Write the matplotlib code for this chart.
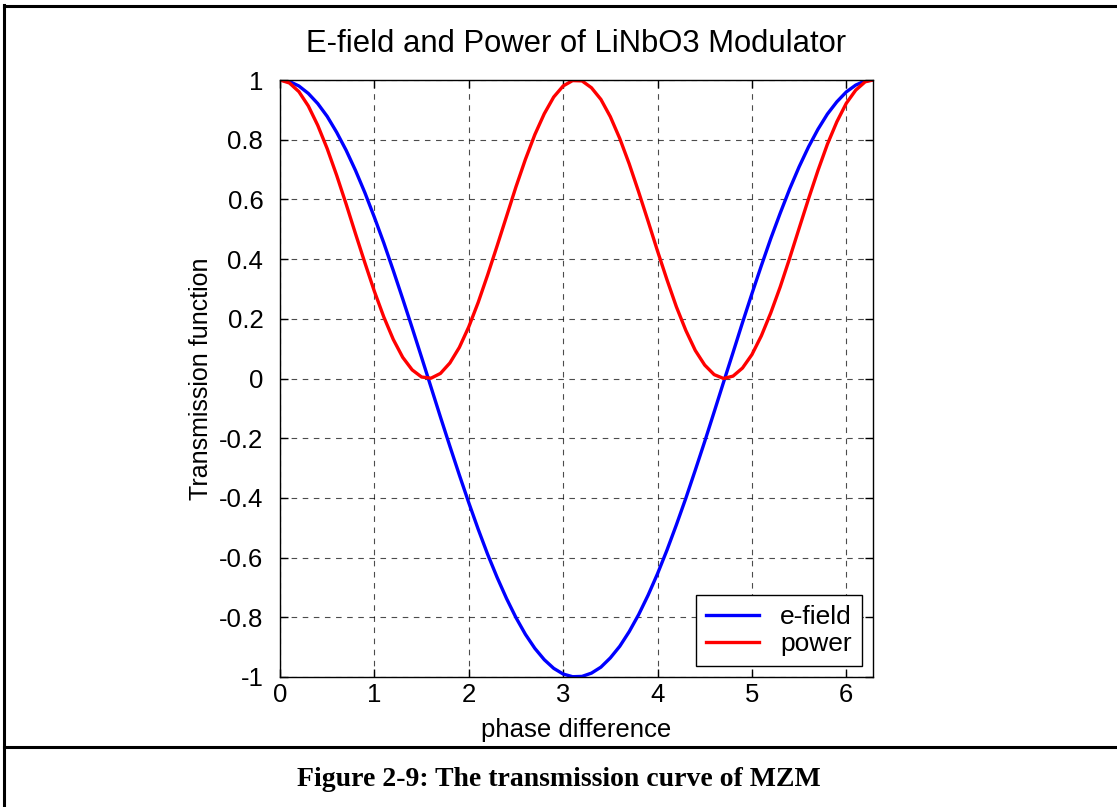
import numpy as np
import matplotlib.pyplot as plt
from matplotlib.lines import Line2D

# phase difference samples (rad) and curves
phase = [0.0, 0.1, 0.2, 0.3, 0.4, 0.5, 0.6, 0.7, 0.8, 0.9,
         1.0, 1.1, 1.2, 1.3, 1.4, 1.5, 1.6, 1.7, 1.8, 1.9,
         2.0, 2.1, 2.2, 2.3, 2.4, 2.5, 2.6, 2.7, 2.8, 2.9,
         3.0, 3.1, 3.2, 3.3, 3.4, 3.5, 3.6, 3.7, 3.8, 3.9,
         4.0, 4.1, 4.2, 4.3, 4.4, 4.5, 4.6, 4.7, 4.8, 4.9,
         5.0, 5.1, 5.2, 5.3, 5.4, 5.5, 5.6, 5.7, 5.8, 5.9,
         6.0, 6.1, 6.2, 6.283]

efield = [1.000, 0.995, 0.980, 0.955, 0.921, 0.878, 0.825, 0.765, 0.697, 0.622,
          0.540, 0.454, 0.362, 0.267, 0.170, 0.071, -0.029, -0.129, -0.227, -0.323,
          -0.416, -0.505, -0.589, -0.666, -0.737, -0.801, -0.857, -0.904, -0.942, -0.971,
          -0.990, -0.999, -0.998, -0.987, -0.967, -0.936, -0.897, -0.848, -0.791, -0.726,
          -0.654, -0.575, -0.490, -0.401, -0.307, -0.211, -0.112, -0.012, 0.087, 0.187,
          0.284, 0.378, 0.469, 0.554, 0.635, 0.709, 0.776, 0.835, 0.886, 0.927,
          0.960, 0.983, 0.997, 1.000]

power = [1.000, 0.990, 0.961, 0.913, 0.848, 0.770, 0.681, 0.585, 0.485, 0.387,
         0.292, 0.206, 0.131, 0.071, 0.029, 0.005, 0.001, 0.017, 0.052, 0.104,
         0.173, 0.255, 0.347, 0.444, 0.543, 0.642, 0.734, 0.817, 0.887, 0.943,
         0.980, 0.998, 0.997, 0.974, 0.935, 0.877, 0.804, 0.719, 0.625, 0.527,
         0.427, 0.331, 0.240, 0.161, 0.094, 0.045, 0.013, 0.000, 0.008, 0.035,
         0.080, 0.143, 0.220, 0.307, 0.403, 0.503, 0.602, 0.697, 0.785, 0.860,
         0.922, 0.966, 0.994, 1.000]

xticks = [0, 1, 2, 3, 4, 5, 6]
yticks = [1, 0.8, 0.6, 0.4, 0.2, 0, -0.2, -0.4, -0.6, -0.8, -1]
ytick_labels = ['1', '0.8', '0.6', '0.4', '0.2', '0', '-0.2', '-0.4', '-0.6', '-0.8', '-1']

plt.rcParams['font.family'] = ['Liberation Sans', 'DejaVu Sans']

W, H = 1117, 807
fig = plt.figure(figsize=(W / 100, H / 100), dpi=100)
ax = fig.add_axes([280 / W, 1 - 677 / H, (873 - 280) / W, (677 - 80) / H])

ax.plot(phase, efield, color='#0000ff', lw=2.4, label='e-field')
ax.plot(phase, power, color='#ff0000', lw=2.4, label='power')

ax.set_xlim(0, 6.283)
ax.set_ylim(-1, 1)
ax.set_xticks(xticks)
ax.set_xticklabels([str(t) for t in xticks])
ax.set_yticks(yticks)
ax.set_yticklabels(ytick_labels)
ax.tick_params(direction='in', length=6, width=1, labelsize=18.5,
               top=True, right=True, colors='black')
ax.tick_params(axis='y', pad=12)
ax.tick_params(axis='x', pad=4)
ax.grid(True, color='black', linestyle=(0, (5, 5)), linewidth=0.8, alpha=0.7)
for s in ax.spines.values():
    s.set_linewidth(1.0)
    s.set_color('black')

ax.set_title('E-field and Power of LiNbO3 Modulator', fontsize=22.3, pad=20)
ax.set_xlabel('phase difference', fontsize=18.5, labelpad=8)
ax.set_ylabel('Transmission function', fontsize=18, labelpad=4)

leg = ax.legend(loc='lower right', fontsize=19, fancybox=False, framealpha=1,
                edgecolor='black', handlelength=2.0, borderaxespad=0.4,
                handletextpad=0.8, borderpad=0.4, labelspacing=0.1)
leg.get_frame().set_linewidth(1.0)

# table-cell frame around the figure and caption
fig.add_artist(Line2D([4 / W, 4 / W], [0, 1 - 5 / H], color='black', lw=2.2))
fig.add_artist(Line2D([4 / W, 1], [1 - 6 / H, 1 - 6 / H], color='black', lw=2.2))
fig.add_artist(Line2D([4 / W, 1], [1 - 747 / H, 1 - 747 / H], color='black', lw=2.2))
fig.text(0.5, 1 - 780 / H, 'Figure 2-9: The transmission curve of MZM',
         ha='center', va='center', fontsize=20, fontweight='bold',
         family='Liberation Serif')

fig.savefig('out.png', dpi=100)
